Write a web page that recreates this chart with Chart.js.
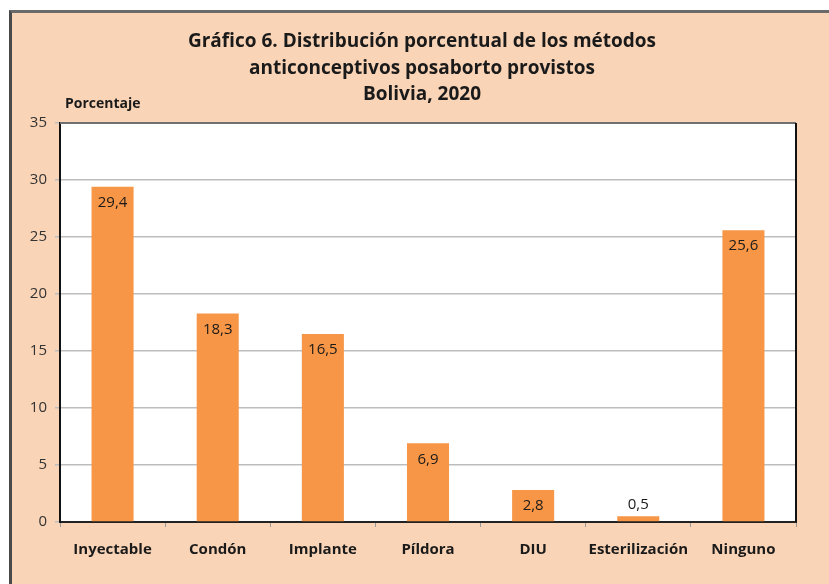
<!DOCTYPE html>
<html>
<head>
<meta charset="utf-8">
<script src="https://cdn.jsdelivr.net/npm/chart.js@4"></script>
<style>
  html, body { margin: 0; padding: 0; background: #fff; }
  #frame {
    position: absolute; left: 9px; top: 10px;
    width: 817px; height: 571px;
    background: #FAD4B6;
    border-left: 3px solid #4a4a4a;
    border-top: 3px solid #6a6a6a;
  }
  #chart { display: block; }
</style>
</head>
<body>
<div id="frame"><canvas id="chart" width="817" height="571"></canvas></div>
<script>
var categories = ['Inyectable', 'Condón', 'Implante', 'Píldora', 'DIU', 'Esterilización', 'Ninguno'];
var values     = [29.4, 18.3, 16.5, 6.9, 2.8, 0.5, 25.6];
var yTicks     = [0, 5, 10, 15, 20, 25, 30, 35];
var titleLines = ['Gráfico 6. Distribución porcentual de los métodos', 'anticonceptivos posaborto provistos', 'Bolivia, 2020'];
var yLabel     = 'Porcentaje';

var FONT = '"Open Sans", Lato, sans-serif';

var decorations = {
    id: 'decorations',
    beforeDraw: function (chart) {
        var a = chart.chartArea, c = chart.ctx;
        c.save();
        c.fillStyle = '#ffffff';
        c.fillRect(a.left, a.top, a.right - a.left, a.bottom - a.top);
        c.restore();
    },
    afterDraw: function (chart) {
        var a = chart.chartArea, c = chart.ctx;
        c.save();
        // top and right plot border
        c.strokeStyle = '#6f6f6f';
        c.lineWidth = 2;
        c.beginPath(); c.moveTo(a.left, a.top); c.lineTo(a.right, a.top); c.stroke();
        c.strokeStyle = '#111';
        c.beginPath(); c.moveTo(a.right, a.top); c.lineTo(a.right, a.bottom); c.stroke();

        // title
        c.fillStyle = '#1a1a1a';
        c.textAlign = 'center';
        c.textBaseline = 'middle';
        c.font = 'bold 19px ' + FONT;
        var cx = 410;
        titleLines.forEach(function (t, i) { c.fillText(t, cx, 29 + i * 26.5); });

        // axis title
        c.textAlign = 'left';
        c.font = 'bold 14px ' + FONT;
        c.fillText(yLabel, 53, 91);

        // value labels
        var meta = chart.getDatasetMeta(0);
        c.font = '15px ' + FONT;
        c.textAlign = 'center';
        meta.data.forEach(function (bar, i) {
            var txt = values[i].toFixed(1).replace('.', ',');
            var h = bar.base - bar.y;
            var y = h > 24 ? bar.y + 16 : bar.y - 12;
            c.fillText(txt, bar.x, y);
        });
        c.restore();
    }
};

new Chart(document.getElementById('chart'), {
    type: 'bar',
    data: {
        labels: categories,
        datasets: [{
            data: values,
            backgroundColor: '#F79646',
            borderWidth: 0,
            categoryPercentage: 1,
            barPercentage: 0.4
        }]
    },
    options: {
        responsive: false,
        animation: false,
        layout: { padding: { top: 110, right: 33, left: 0, bottom: 0 } },
        plugins: {
            legend: { display: false },
            tooltip: { enabled: false }
        },
        scales: {
            x: {
                afterFit: function (s) { s.height = 62; },
                grid: { display: true, drawOnChartArea: false, drawTicks: true, tickLength: 5, color: '#9a9a9a', offset: true },
                border: { display: true, color: '#222', width: 2 },
                ticks: { color: '#1a1a1a', padding: 14, maxRotation: 0, minRotation: 0, autoSkip: false, font: { family: FONT, size: 15, weight: 'bold' } }
            },
            y: {
                min: 0, max: 35,
                afterFit: function (s) { s.width = 48; },
                afterBuildTicks: function (s) { s.ticks = yTicks.map(function (v) { return { value: v }; }); },
                grid: { color: '#bdbdbd', lineWidth: 1.5, tickLength: 5, drawTicks: true },
                border: { display: true, color: '#111', width: 2 },
                ticks: { color: '#333', padding: 8, font: { family: FONT, size: 15 } }
            }
        }
    },
    plugins: [decorations]
});
</script>
</body>
</html>
